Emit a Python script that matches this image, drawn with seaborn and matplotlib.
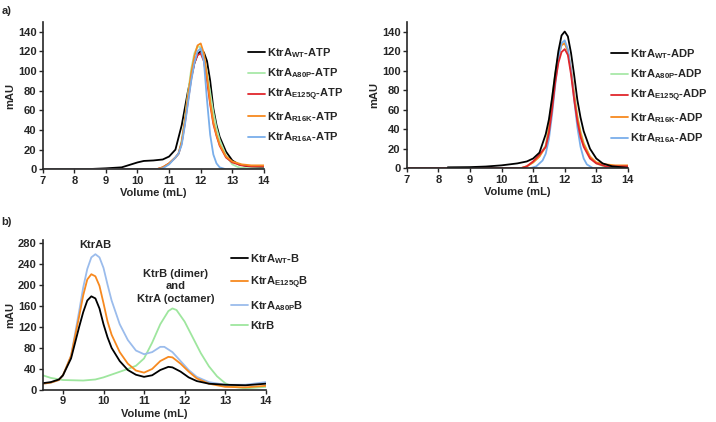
import numpy as np
import pandas as pd
import seaborn as sns
import matplotlib.pyplot as plt

sns.set_style('ticks')
plt.rcParams['font.family'] = ['Liberation Sans', 'DejaVu Sans']
plt.rcParams['font.weight'] = 'bold'
plt.rcParams['mathtext.fontset'] = 'custom'
plt.rcParams['mathtext.bf'] = 'Liberation Sans:bold'
plt.rcParams['mathtext.rm'] = 'Liberation Sans:bold'
plt.rcParams['mathtext.default'] = 'bf'

# ---- panel a, left: ATP ----
atp_wt_v = [7, 8, 8.5, 9, 9.5, 9.8, 10, 10.2, 10.5, 10.8, 11, 11.2, 11.4, 11.6, 11.8, 11.9, 12.0, 12.1, 12.2, 12.3, 12.4, 12.5, 12.6, 12.8, 13.0, 13.2, 13.5, 14]
atp_wt_y = [0, 0, 0.3, 1, 2, 5, 7, 8.5, 9, 10, 13, 20, 45, 80, 108, 117, 120, 119, 110, 90, 62, 45, 33, 18, 9, 5, 3, 2]

atp_a80p_v = [7, 10.6, 10.8, 11.0, 11.2, 11.3, 11.4, 11.5, 11.6, 11.7, 11.8, 11.9, 12.0, 12.1, 12.2, 12.3, 12.4, 12.5, 12.6, 12.8, 13.0, 13.2, 13.5, 14]
atp_a80p_y = [0, 0, 2, 6, 12, 16, 30, 52, 78, 102, 118, 125, 124, 115, 98, 78, 58, 42, 30, 14, 5, 2, 1, 1]

atp_e125q_v = [7, 10.6, 10.8, 11.0, 11.2, 11.3, 11.4, 11.5, 11.6, 11.7, 11.8, 11.9, 12.0, 12.1, 12.2, 12.3, 12.4, 12.5, 12.6, 12.8, 13.0, 13.3, 13.6, 14]
atp_e125q_y = [0, 0, 2, 6, 12, 16, 27, 47, 70, 92, 108, 116, 118, 110, 90, 66, 46, 34, 24, 12, 7, 4, 3, 3]

atp_r16k_v = [7, 10.6, 10.8, 11.0, 11.2, 11.3, 11.4, 11.5, 11.6, 11.7, 11.8, 11.9, 12.0, 12.1, 12.2, 12.3, 12.4, 12.5, 12.6, 12.8, 13.0, 13.3, 13.6, 14]
atp_r16k_y = [0, 0, 2, 6, 12, 16, 28, 50, 75, 98, 115, 126, 128, 118, 95, 68, 48, 35, 25, 13, 8, 5, 4, 4]

atp_r16a_v = [7, 10.6, 10.8, 11.0, 11.2, 11.3, 11.4, 11.5, 11.6, 11.7, 11.8, 11.9, 12.0, 12.1, 12.2, 12.3, 12.4, 12.5, 12.6, 12.8, 14]
atp_r16a_y = [0, 0, 1, 5, 12, 16, 25, 45, 68, 90, 108, 120, 123, 110, 70, 35, 15, 6, 2, 0, 0]

# ---- panel a, right: ADP ----
adp_wt_v = [8.3, 9, 9.5, 10, 10.5, 10.8, 11.0, 11.2, 11.4, 11.5, 11.6, 11.7, 11.8, 11.9, 12.0, 12.1, 12.2, 12.3, 12.4, 12.5, 12.6, 12.8, 13.0, 13.2, 13.5, 14]
adp_wt_y = [1, 1.2, 1.8, 3, 5, 7, 10, 16, 35, 50, 72, 97, 120, 136, 140, 135, 118, 95, 70, 52, 38, 20, 10, 5, 2, 0.5]

adp_a80p_v = [7, 10.6, 10.8, 11.0, 11.2, 11.4, 11.5, 11.6, 11.7, 11.8, 11.9, 12.0, 12.1, 12.2, 12.3, 12.4, 12.5, 12.6, 12.8, 13.0, 13.3, 14]
adp_a80p_y = [0, 0, 2, 6, 12, 24, 45, 72, 98, 117, 127, 128, 120, 100, 76, 54, 38, 26, 12, 5, 1, 1]

adp_e125q_v = [7, 10.6, 10.8, 11.0, 11.2, 11.4, 11.5, 11.6, 11.7, 11.8, 11.9, 12.0, 12.1, 12.2, 12.3, 12.4, 12.5, 12.6, 12.8, 13.0, 13.3, 14]
adp_e125q_y = [0, 0, 2, 7, 14, 22, 36, 60, 88, 108, 119, 122, 116, 96, 70, 48, 32, 22, 10, 5, 2, 2]

adp_r16k_v = [7, 10.6, 10.8, 11.0, 11.2, 11.4, 11.5, 11.6, 11.7, 11.8, 11.9, 12.0, 12.1, 12.2, 12.3, 12.4, 12.5, 12.6, 12.8, 13.0, 13.3, 13.6, 14]
adp_r16k_y = [0, 0, 2, 6, 12, 22, 40, 68, 95, 115, 126, 128, 120, 100, 75, 52, 36, 25, 12, 6, 4, 3, 3]

adp_r16a_v = [7, 10.9, 11.1, 11.3, 11.4, 11.5, 11.6, 11.7, 11.8, 11.9, 12.0, 12.1, 12.2, 12.3, 12.4, 12.5, 12.6, 12.7, 12.9, 14]
adp_r16a_y = [0, 0, 2, 8, 15, 30, 55, 85, 112, 128, 131, 122, 100, 70, 42, 22, 10, 4, 0, 0]

# ---- panel b: KtrAB complexes ----
b_wt_v = [8.5, 8.7, 8.9, 9.0, 9.2, 9.4, 9.5, 9.6, 9.7, 9.8, 9.9, 10.0, 10.1, 10.2, 10.4, 10.6, 10.8, 11.0, 11.2, 11.4, 11.6, 11.7, 11.9, 12.1, 12.3, 12.6, 13.0, 13.5, 14]
b_wt_y = [13, 15, 20, 28, 60, 120, 148, 170, 178, 174, 155, 125, 100, 80, 55, 38, 29, 25, 28, 38, 44, 43, 35, 24, 17, 12, 10, 9, 12]

b_e125q_v = [8.5, 8.7, 8.9, 9.0, 9.2, 9.4, 9.5, 9.6, 9.7, 9.8, 9.9, 10.0, 10.1, 10.2, 10.4, 10.6, 10.8, 11.0, 11.2, 11.4, 11.6, 11.7, 11.9, 12.1, 12.3, 12.6, 13.0, 13.5, 14]
b_e125q_y = [12, 14, 19, 28, 65, 140, 180, 210, 220, 216, 198, 165, 130, 105, 72, 50, 37, 33, 40, 55, 63, 62, 50, 35, 22, 12, 6, 5, 8]

b_a80p_v = [8.5, 8.7, 8.9, 9.0, 9.2, 9.4, 9.5, 9.6, 9.7, 9.8, 9.9, 10.0, 10.1, 10.2, 10.4, 10.6, 10.8, 11.0, 11.2, 11.4, 11.5, 11.7, 11.9, 12.1, 12.3, 12.6, 13.0, 13.5, 14]
b_a80p_y = [12, 14, 19, 27, 65, 150, 195, 230, 252, 258, 252, 232, 200, 170, 125, 95, 75, 68, 72, 82, 82, 72, 55, 38, 25, 15, 10, 10, 15]

b_ktrb_v = [8.5, 8.7, 9.0, 9.5, 9.8, 10.0, 10.3, 10.6, 10.8, 11.0, 11.2, 11.4, 11.6, 11.7, 11.8, 12.0, 12.2, 12.4, 12.6, 12.8, 13.0, 13.2, 13.5, 14]
b_ktrb_y = [28, 23, 19, 18, 20, 24, 32, 40, 46, 60, 90, 125, 150, 155, 152, 130, 100, 70, 45, 26, 13, 6, 3, 6]

atp_series = [
    ('KtrA$_{WT}$-ATP', atp_wt_v, atp_wt_y, '#000000'),
    ('KtrA$_{A80P}$-ATP', atp_a80p_v, atp_a80p_y, '#a8e8a8'),
    ('KtrA$_{E125Q}$-ATP', atp_e125q_v, atp_e125q_y, '#e0262c'),
    ('KtrA$_{R16K}$-ATP', atp_r16k_v, atp_r16k_y, '#f7891f'),
    ('KtrA$_{R16A}$-ATP', atp_r16a_v, atp_r16a_y, '#79aeea'),
]
adp_series = [
    ('KtrA$_{WT}$-ADP', adp_wt_v, adp_wt_y, '#000000'),
    ('KtrA$_{A80P}$-ADP', adp_a80p_v, adp_a80p_y, '#a8e8a8'),
    ('KtrA$_{E125Q}$-ADP', adp_e125q_v, adp_e125q_y, '#e0262c'),
    ('KtrA$_{R16K}$-ADP', adp_r16k_v, adp_r16k_y, '#f7891f'),
    ('KtrA$_{R16A}$-ADP', adp_r16a_v, adp_r16a_y, '#79aeea'),
]
b_series = [
    ('KtrA$_{WT}$-B', b_wt_v, b_wt_y, '#000000'),
    ('KtrA$_{E125Q}$B', b_e125q_v, b_e125q_y, '#f7891f'),
    ('KtrA$_{A80P}$B', b_a80p_v, b_a80p_y, '#9bbcec'),
    ('KtrB', b_ktrb_v, b_ktrb_y, '#9ee69e'),
]

fig = plt.figure(figsize=(7.16, 4.22), dpi=100)
ax1 = fig.add_axes([0.0596, 0.5988, 0.309, 0.3495])
ax2 = fig.add_axes([0.568, 0.6012, 0.309, 0.3472])
ax3 = fig.add_axes([0.0596, 0.0758, 0.3115, 0.3555])


def draw(ax, series, order):
    for i in order:
        name, v, y, c = series[i]
        sns.lineplot(x=v, y=y, ax=ax, color=c, lw=1.3, label=name, sort=False)
    handles, labels = ax.get_legend_handles_labels()
    lookup = dict(zip(labels, handles))
    return [lookup[s[0]] for s in series], [s[0] for s in series]


def style(ax, xlim, ylim, yticks, xticks):
    ax.set_xlim(*xlim)
    ax.set_ylim(*ylim)
    ax.set_yticks(yticks)
    ax.set_xticks(xticks)
    sns.despine(ax=ax)
    for s in ['left', 'bottom']:
        ax.spines[s].set_linewidth(1.2)
    ax.tick_params(direction='out', length=3, width=1, labelsize=8, pad=1.5)
    ax.set_xlabel('Volume (mL)', fontsize=8, fontweight='bold', labelpad=2)
    ax.set_ylabel('mAU', fontsize=8, fontweight='bold', labelpad=2)


def legend(ax, h, l, x, y, sp):
    ax.legend(h, l, loc='upper left', bbox_to_anchor=(x / 716, 1 - y / 422),
              bbox_transform=fig.transFigure, frameon=False, fontsize=8,
              handlelength=1.55, handletextpad=0.15, labelspacing=sp,
              borderpad=0, borderaxespad=0)


h, l = draw(ax1, atp_series, [0, 1, 2, 3, 4])
style(ax1, (7, 14), (0, 150), range(0, 141, 20), range(7, 15))
legend(ax1, h, l, 248, 46, 0.6)

h, l = draw(ax2, adp_series, [1, 3, 4, 2, 0])
style(ax2, (7, 14), (0, 150), range(0, 141, 20), range(7, 15))
legend(ax2, h, l, 611, 47, 0.6)

h, l = draw(ax3, b_series, [3, 2, 1, 0])
style(ax3, (8.5, 14), (0, 285), range(0, 281, 40), range(9, 15))
legend(ax3, h, l, 231, 252, 0.75)

ax3.text(9.8, 276, 'KtrAB', ha='center', va='center', fontsize=8, fontweight='bold')
ax3.text(11.78, 197, 'KtrB (dimer)\nand\nKtrA (octamer)', ha='center', va='center',
         fontsize=8, fontweight='bold', linespacing=1.3)

fig.text(0.002, 0.985, 'a)', fontsize=8, fontweight='bold', va='top')
fig.text(0.002, 0.485, 'b)', fontsize=8, fontweight='bold', va='top')

fig.savefig('out.png', dpi=100)
